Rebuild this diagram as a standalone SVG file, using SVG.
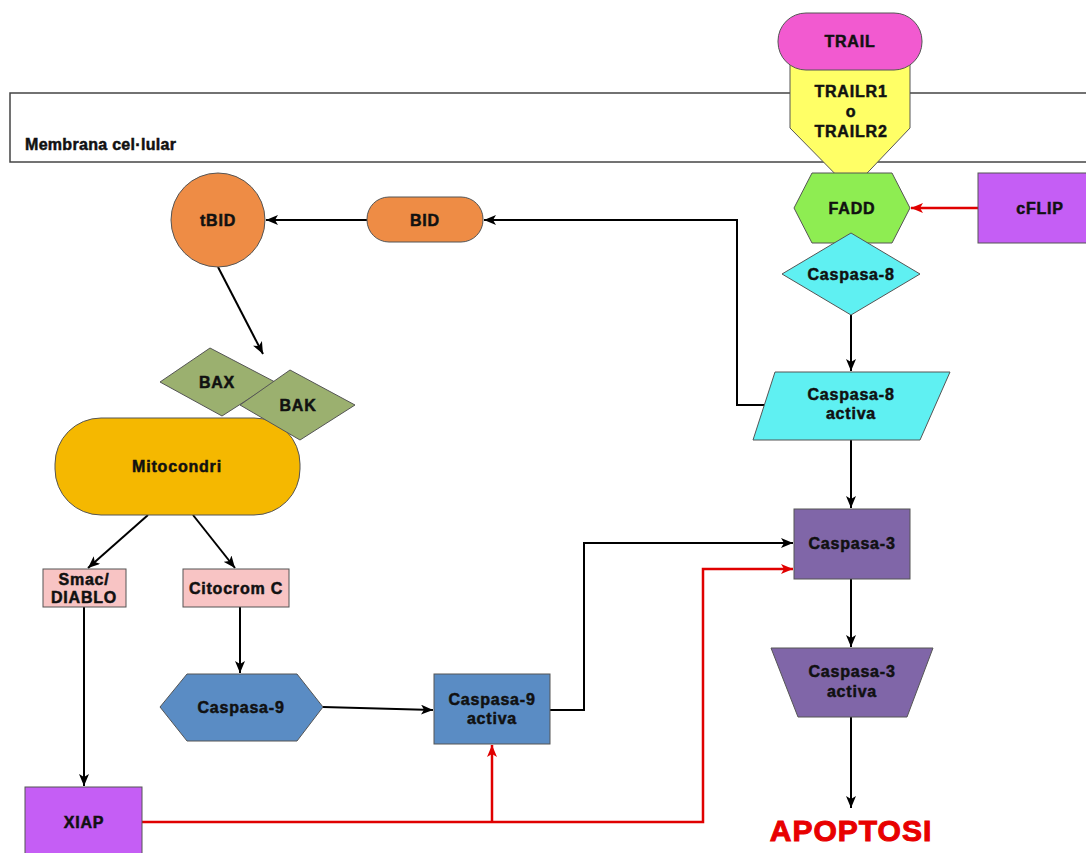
<svg xmlns="http://www.w3.org/2000/svg" width="1086" height="853" viewBox="0 0 1086 853">
<defs>
<marker id="ab" viewBox="0 0 12 10" refX="12" refY="5" markerWidth="12" markerHeight="10" markerUnits="userSpaceOnUse" orient="auto"><path d="M0,0 L12,5 L0,10 L3,5 Z" fill="#000"/></marker>
<marker id="ar" viewBox="0 0 12 10" refX="12" refY="5" markerWidth="12" markerHeight="10" markerUnits="userSpaceOnUse" orient="auto"><path d="M0,0 L12,5 L0,10 L3,5 Z" fill="#e00000"/></marker>
</defs>
<style>
text{font-family:"Liberation Sans",Arial,sans-serif;font-weight:bold;font-size:16px;fill:#111;stroke:#111;stroke-width:0.5;letter-spacing:0.8px;text-anchor:middle}
.shape{stroke:#555;stroke-width:1}
.c{fill:none;stroke:#000;stroke-width:2}
.r{fill:none;stroke:#e00000;stroke-width:2.5}
</style>
<rect width="1086" height="853" fill="#fff"/>
<g id="membrana">
<rect x="10" y="93" width="1090" height="69" fill="#fff" stroke="#444" stroke-width="1.5"/>
<text x="25" y="150" style="text-anchor:start;letter-spacing:0.3px">Membrana cel·lular</text>
</g>
<g id="connectors">
<line class="r" x1="978" y1="208" x2="911" y2="208" marker-end="url(#ar)"/>
<line class="c" x1="851" y1="315" x2="851" y2="371" marker-end="url(#ab)"/>
<polyline class="c" points="766,405 737,405 737,220 484,220" marker-end="url(#ab)"/>
<line class="c" x1="367" y1="220" x2="266" y2="220" marker-end="url(#ab)"/>
<line class="c" x1="218" y1="267" x2="263" y2="354" marker-end="url(#ab)"/>
<line class="c" x1="851" y1="440" x2="851" y2="508" marker-end="url(#ab)"/>
<line class="c" x1="148" y1="515" x2="88" y2="568" marker-end="url(#ab)"/>
<line class="c" x1="193" y1="515" x2="235" y2="568" marker-end="url(#ab)"/>
<line class="c" x1="84" y1="607" x2="84" y2="786" marker-end="url(#ab)"/>
<line class="c" x1="240" y1="607" x2="240" y2="673" marker-end="url(#ab)"/>
<line class="c" x1="323" y1="707" x2="433" y2="710" marker-end="url(#ab)"/>
<polyline class="c" points="550,710 584,710 584,543 793,543" marker-end="url(#ab)"/>
<line class="c" x1="851" y1="579" x2="851" y2="647" marker-end="url(#ab)"/>
<line class="c" x1="851" y1="717" x2="851" y2="808" marker-end="url(#ab)"/>
<polyline class="r" points="142,822 703,822 703,569 793,569" marker-end="url(#ar)"/>
<line class="r" x1="492" y1="822" x2="492" y2="745" marker-end="url(#ar)"/>
</g>
<g id="trailr">
<polygon class="shape" points="790,62 910,62 910,128 851,190 790,128" fill="#ffff66"/>
<text x="851" y="97">TRAILR1</text>
<text x="851" y="117">o</text>
<text x="851" y="137">TRAILR2</text>
</g>
<g id="trail">
<rect class="shape" x="778" y="13" width="144" height="57" rx="28" fill="#f25ad0"/>
<text x="850" y="47">TRAIL</text>
</g>
<g id="fadd">
<polygon class="shape" points="794,208 812,173 892,173 910,208 892,243 812,243" fill="#8eed52"/>
<text x="852" y="214">FADD</text>
</g>
<g id="cflip">
<rect class="shape" x="978" y="173" width="110" height="70" fill="#c55ef5"/>
<text x="1040" y="214">cFLIP</text>
</g>
<g id="caspasa8">
<polygon class="shape" points="782,274 851,233 920,274 851,315" fill="#5ff0f2"/>
<text x="851" y="280">Caspasa-8</text>
</g>
<g id="caspasa8activa">
<polygon class="shape" points="775,372 950,372 920,440 753,440" fill="#5ff0f2"/>
<text x="851" y="400">Caspasa-8</text>
<text x="851" y="419">activa</text>
</g>
<g id="bid">
<rect class="shape" x="367" y="197" width="116" height="45" rx="22" fill="#ee8c45"/>
<text x="425" y="226">BID</text>
</g>
<g id="tbid">
<circle class="shape" cx="218" cy="220" r="47" fill="#ee8c45"/>
<text x="218" y="226">tBID</text>
</g>
<g id="mitocondri">
<rect class="shape" x="55" y="418" width="245" height="97" rx="46" fill="#f5b800"/>
<text x="177" y="472">Mitocondri</text>
</g>
<g id="bax">
<polygon class="shape" points="160,382 210,348 275,382 222,416" fill="#9bb06f"/>
<text x="217" y="388">BAX</text>
</g>
<g id="bak">
<polygon class="shape" points="240,405 290,370 355,405 300,440" fill="#9bb06f"/>
<text x="298" y="411">BAK</text>
</g>
<g id="smac">
<rect class="shape" x="43" y="569" width="83" height="38" fill="#f8c4c4"/>
<text x="84" y="585">Smac/</text>
<text x="84" y="603">DIABLO</text>
</g>
<g id="citocrom">
<rect class="shape" x="183" y="569" width="106" height="38" fill="#f8c4c4"/>
<text x="236" y="594">Citocrom C</text>
</g>
<g id="caspasa9">
<polygon class="shape" points="160,707 187,674 297,674 323,707 297,741 187,741" fill="#5a8cc4"/>
<text x="241" y="713">Caspasa-9</text>
</g>
<g id="caspasa9activa">
<rect class="shape" x="434" y="674" width="116" height="70" fill="#5a8cc4"/>
<text x="492" y="705">Caspasa-9</text>
<text x="492" y="724">activa</text>
</g>
<g id="caspasa3">
<rect class="shape" x="794" y="509" width="116" height="70" fill="#8066a8"/>
<text x="852" y="549">Caspasa-3</text>
</g>
<g id="caspasa3activa">
<polygon class="shape" points="771,648 933,648 907,717 798,717" fill="#8066a8"/>
<text x="852" y="677">Caspasa-3</text>
<text x="852" y="697">activa</text>
</g>
<g id="xiap">
<rect class="shape" x="25" y="787" width="117" height="70" fill="#c55ef5"/>
<text x="84" y="828">XIAP</text>
</g>
<g id="apoptosi">
<text x="851" y="841" style="font-size:30px;fill:#e80000;stroke:#e80000;stroke-width:1;letter-spacing:1px">APOPTOSI</text>
</g>
</svg>
